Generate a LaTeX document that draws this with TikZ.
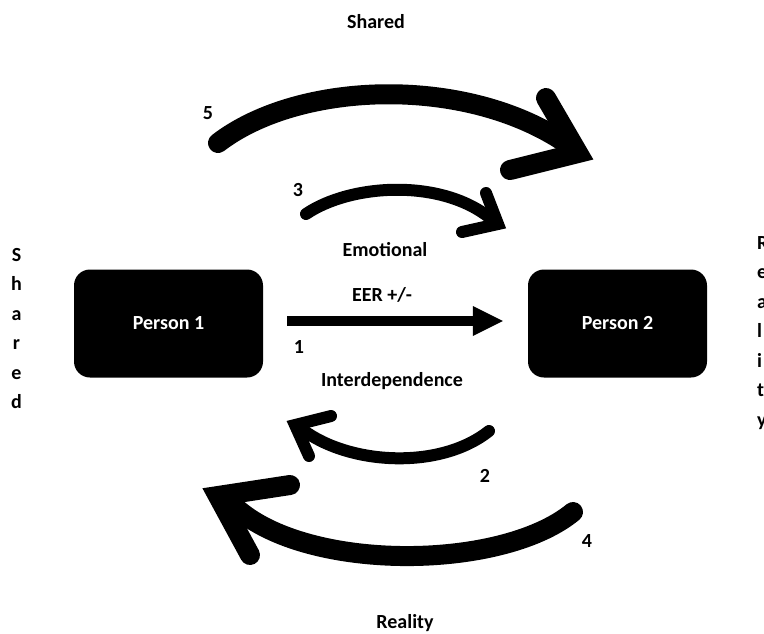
\documentclass[tikz,border=0pt]{standalone}
\usepackage{fontspec}
\setmainfont{Carlito}
\usepackage{tikz}
\usetikzlibrary{arrows.meta}

\tikzset{
    lbl/.style={font=\fontsize{20}{24}\selectfont\bfseries, inner sep=0pt},
    person/.style={fill=black, text=white, rounded corners=16pt, minimum height=108pt, font=\fontsize{20}{24}\selectfont\bfseries},
    vert/.style={font=\fontsize{20}{29.5}\selectfont\bfseries, inner sep=0pt},
    bigarc/.style={black, line width=20pt, line cap=round},
    smallarc/.style={black, line width=12pt, line cap=round},
    bighead/.style={black, line width=20pt, line cap=round, line join=miter},
    smallhead/.style={black, line width=12pt, line cap=round, line join=miter},
    eer/.style={black, line width=10pt, -{Triangle[length=30pt, width=30pt, line width=0pt]}, shorten <=24pt, shorten >=25pt}
}

\begin{document}
\begin{tikzpicture}[x=1pt, y=-1pt]
    \useasboundingbox (0,0) rectangle (764,633);
    % the two persons and the direct link
    \node[person, minimum width=189pt] (p1) at (168.5,323.5) {Person 1};
    \node[person, minimum width=179pt] (p2) at (617.5,323.5) {Person 2};
    \draw[eer] ([yshift=2.5pt]p1.east) -- ([yshift=2.5pt]p2.west);
    \node[lbl] (emo) at (385,250) {Emotional};
    \node[lbl] (eerlbl) at (382,295) {EER +/-};
    \node[lbl] (one) at (299,347) {1};
    \node[lbl] (inter) at (392,381) {Interdependence};
    % arcs above
    \draw[bigarc] (218,143) .. controls (300,80) and (470,75) .. (570,146);
    \draw[bighead] (546,98) -- (578,153) -- (510,170);
    \node[lbl] (five) at (208,113) {5};
    \draw[smallarc] (306,214) .. controls (350,184) and (440,178) .. (490,218);
    \draw[smallhead] (486,193) -- (498,224) -- (462,232);
    \node[lbl] (three) at (298,190) {3};
    % arcs below
    \draw[smallarc] (489,431) .. controls (440,470) and (350,465) .. (303,430);
    \draw[smallhead] (331,416) -- (295,425) -- (309,456);
    \node[lbl] (two) at (485,476) {2};
    \draw[bigarc] (573,512) .. controls (500,572) and (300,572) .. (232,504);
    \draw[bighead] (290,485) -- (218,496) -- (250,555);
    \node[lbl] (four) at (587,541) {4};
    % frame words
    \node[lbl] (top) at (376,22) {Shared};
    \node[lbl] (bottom) at (405,623) {Reality};
    \node[vert, align=center, anchor=north] (left) at (16.5,248) {S\\h\\a\\r\\e\\d};
    \node[vert, align=left, anchor=north west] (right) at (757,236) {R\\e\\a\\l\\i\\t\\y};
\end{tikzpicture}
\end{document}
